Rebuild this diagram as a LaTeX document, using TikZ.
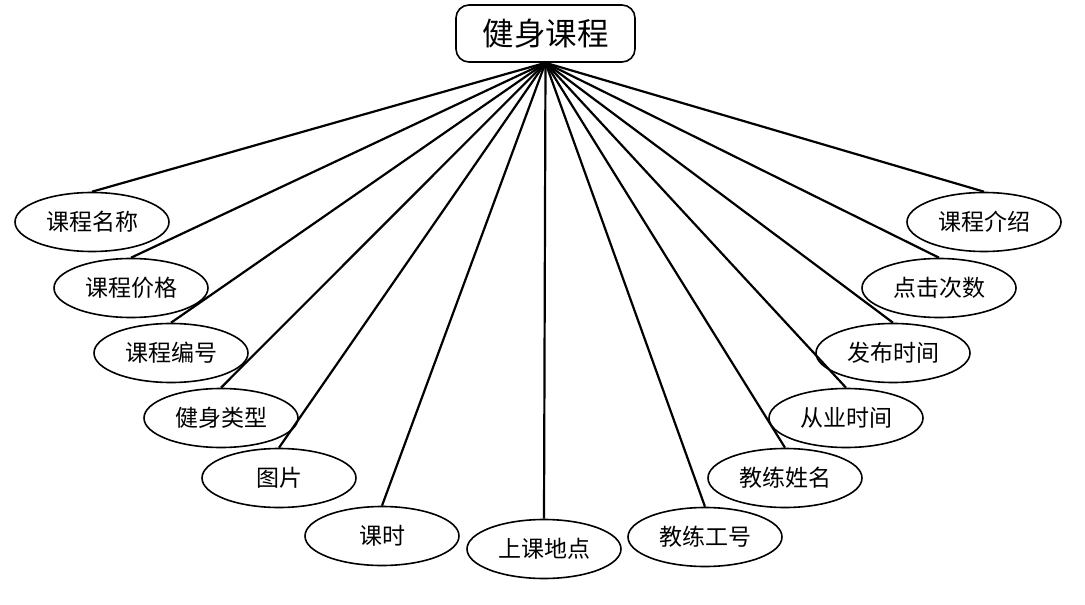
\documentclass[tikz,border=0pt]{standalone}
\usepackage{fontspec}
\setmainfont{Noto Sans CJK SC}
\usetikzlibrary{shapes.geometric}
\begin{document}
\begin{tikzpicture}[x=1pt,y=-1pt,
  attr/.style={ellipse, draw, line width=1.6pt, minimum width=154pt, minimum height=59pt, inner sep=0pt, font=\fontsize{23}{27}\selectfont},
  ent/.style={draw, rounded corners=13pt, line width=1.6pt, minimum width=179pt, minimum height=57pt, inner sep=0pt, font=\fontsize{31.5}{36}\selectfont},
  link/.style={line width=2.2pt}]
\useasboundingbox (0,0) rectangle (1085,605);
\node[ent] (top) at (545.5,33.5) {健身课程};
\node[attr] (a1) at (92,222) {课程名称};
\node[attr] (a2) at (131,288) {课程价格};
\node[attr] (a3) at (171,353) {课程编号};
\node[attr] (a4) at (221,418) {健身类型};
\node[attr] (a5) at (279,478) {图片};
\node[attr] (a6) at (382,536) {课时};
\node[attr] (a7) at (544,549) {上课地点};
\node[attr] (a8) at (705,537) {教练工号};
\node[attr] (a9) at (785,478) {教练姓名};
\node[attr] (a10) at (846,418) {从业时间};
\node[attr] (a11) at (893,353) {发布时间};
\node[attr] (a12) at (939,288) {点击次数};
\node[attr] (a13) at (984,222) {课程介绍};
\foreach \i in {1,...,13} \draw[link] (top.south) -- (a\i.north);
\end{tikzpicture}
\end{document}
